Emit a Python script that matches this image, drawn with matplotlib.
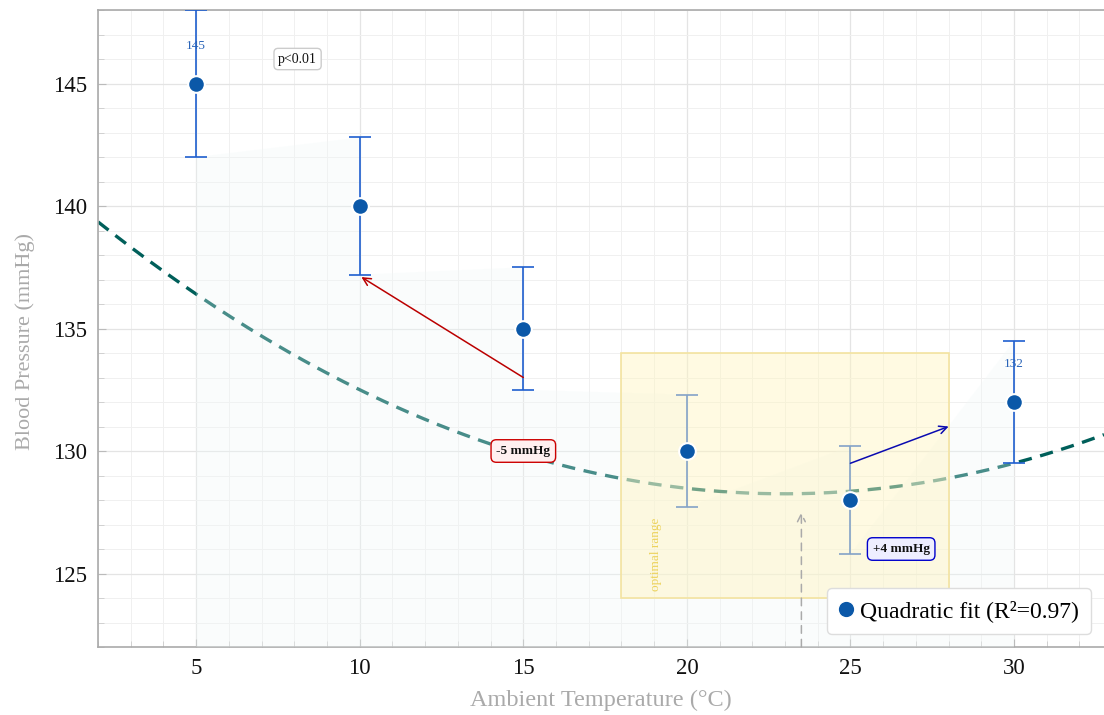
import matplotlib
matplotlib.use("Agg")
import matplotlib.pyplot as plt
import numpy as np
from matplotlib.patches import Rectangle, Polygon
from matplotlib.lines import Line2D
from matplotlib.ticker import MultipleLocator

plt.rcParams['font.family'] = ['Liberation Serif', 'DejaVu Serif']
plt.rcParams['mathtext.fontset'] = 'stix'

# ---- data ----
temps = [5, 10, 15, 20, 25, 30]
bp = [145, 140, 135, 130, 128, 132]
bp_err = [3.0, 2.8, 2.5, 2.3, 2.2, 2.5]
fit_coef = [0.02524, -1.1595, 141.57]   # quadratic fit (a, b, c)
value_labels = {5: 145, 30: 132}
optimal_range = (18, 28, 124, 134)

xlim = (2, 32.75)
ylim = (122, 148)

fig = plt.figure(figsize=(11.04, 7.15), dpi=100)
ax = fig.add_axes([0.0888, 0.0951, 0.9112, 0.8909])
ax.set_xlim(*xlim)
ax.set_ylim(*ylim)

# grid
ax.xaxis.set_major_locator(MultipleLocator(5))
ax.yaxis.set_major_locator(MultipleLocator(5))
ax.xaxis.set_minor_locator(MultipleLocator(1))
ax.yaxis.set_minor_locator(MultipleLocator(1))
ax.grid(which='major', color='#e4e4e4', lw=0.9, zorder=0)
ax.grid(which='minor', color='#f0f0f0', lw=0.7, zorder=0)
ax.set_axisbelow(True)
ax.tick_params(which='major', direction='in', length=6, color='#bbbbbb',
               labelsize=16.5, labelcolor='#111111', pad=8)
ax.tick_params(which='minor', direction='in', length=4, color='#cccccc')
for s in ['left', 'bottom', 'top']:
    ax.spines[s].set_color('#aaaaaa')
    ax.spines[s].set_linewidth(1.2)
ax.spines['right'].set_visible(False)

# fitted curve
xs = np.linspace(xlim[0], xlim[1], 300)
ax.plot(xs, np.polyval(fit_coef, xs), color='#005f5a', lw=2.4,
        dashes=(4, 2.6), zorder=2)

# faint band
lo = [b - e for b, e in zip(bp, bp_err)]
hi = [b + e for b, e in zip(bp, bp_err)]
for i in range(len(temps) - 1):
    poly = Polygon([(temps[i], lo[i]), (temps[i + 1], hi[i + 1]),
                    (temps[i + 1], ylim[0]), (temps[i], ylim[0])],
                   closed=True, facecolor='#f0f8f8', alpha=0.3,
                   edgecolor='none', zorder=3)
    ax.add_patch(poly)

# error bars
ax.errorbar(temps, bp, yerr=bp_err, fmt='none', ecolor='#1f5fcf',
            elinewidth=1.2, capsize=8, capthick=1.2, zorder=4)

# optimal range box
x0, x1, y0, y1 = optimal_range
ax.add_patch(Rectangle((x0, y0), x1 - x0, y1 - y0,
                       facecolor=(1.0, 0.96, 0.75, 0.45),
                       edgecolor='#f3e3a0', lw=1.2, zorder=5))
ax.text(19.05, 125.8, 'optimal range', rotation=90, ha='center', va='center',
        fontsize=9.5, color='#ecd25a', zorder=6)

# markers
ax.plot(temps, bp, 'o', color='#0b58a8', ms=12, mec='white', mew=1.5,
        zorder=7)

# value labels
for xv, yv in value_labels.items():
    ax.text(xv, yv + 1.55, str(yv), ha='center', va='center', fontsize=9.5,
            color='#2a64b8', zorder=8)

# annotations
ax.annotate('', xy=(10.05, 137.1), xytext=(15, 133.0),
            arrowprops=dict(arrowstyle='->', color='#bb0000', lw=1.1,
                            mutation_scale=14, shrinkA=0, shrinkB=0), zorder=8)
ax.text(15, 130, '-5 mmHg', ha='center', va='center', fontsize=9.5,
        fontweight='bold', color='#111111', zorder=9,
        bbox=dict(boxstyle='round,pad=0.4', fc='#fff0f0', ec='#cc0000', lw=1))

ax.annotate('', xy=(28, 131.0), xytext=(25, 129.5),
            arrowprops=dict(arrowstyle='->', color='#0a0ab0', lw=1.1,
                            mutation_scale=14, shrinkA=0, shrinkB=0), zorder=8)
ax.text(26.55, 126.0, '+4 mmHg', ha='center', va='center', fontsize=9.5,
        fontweight='bold', color='#111111', zorder=9,
        bbox=dict(boxstyle='round,pad=0.4', fc='#eeeeff', ec='#0000cc', lw=1))

ax.annotate('', xy=(23.5, 127.5), xytext=(23.5, ylim[0]),
            arrowprops=dict(arrowstyle='->', color='#aaaaaa', lw=1.1,
                            mutation_scale=14,
                            linestyle=(0, (5, 4)), shrinkA=0, shrinkB=0),
            zorder=8)

ax.text(8.1, 146.0, 'p<0.01', ha='center', va='center', fontsize=10,
        color='#111111', zorder=9,
        bbox=dict(boxstyle='round,pad=0.3', fc='white', ec='#cccccc', lw=1))

# labels
ax.set_xlabel('Ambient Temperature (°C)', fontsize=17.5, color='#aaaaaa',
              labelpad=8)
ax.set_ylabel('Blood Pressure (mmHg)', fontsize=16, color='#aaaaaa')
ax.yaxis.set_label_coords(-0.063, 0.48)

# legend
handle = Line2D([], [], marker='o', ls='none', color='#0b58a8', ms=12,
                mec='white', mew=1)
leg = ax.legend([handle], ['Quadratic fit (R²=0.97)'], loc='lower right',
                fontsize=17, frameon=True, fancybox=True, handlelength=0.6,
                handletextpad=0.3, borderpad=0.5, borderaxespad=0.55)
leg.get_frame().set_edgecolor('#dddddd')
leg.get_frame().set_facecolor('white')
leg.get_frame().set_alpha(1)
leg.set_zorder(10)

fig.savefig('out.png', dpi=100)
